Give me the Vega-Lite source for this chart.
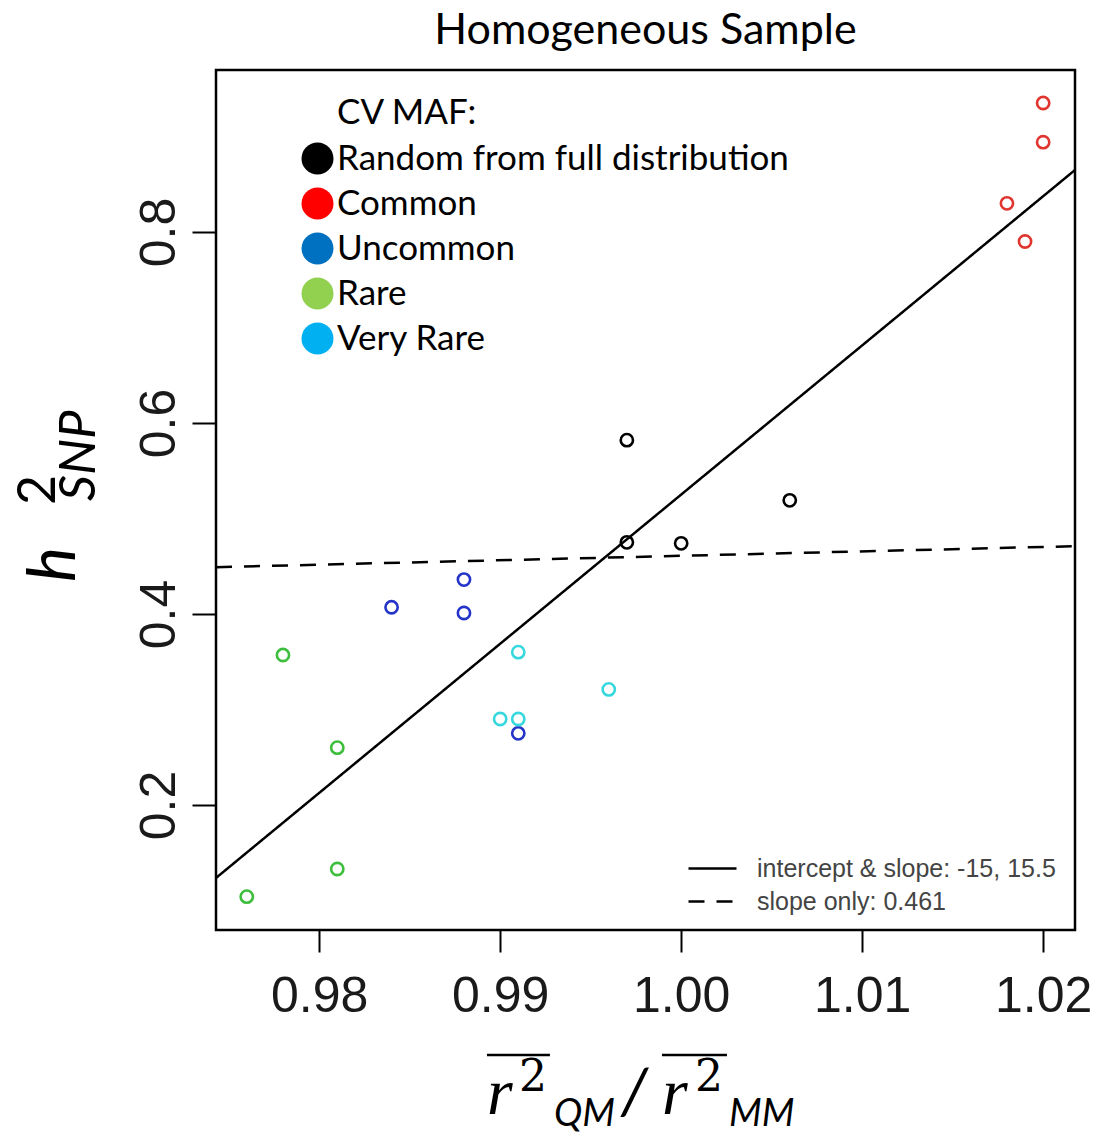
{
  "$schema": "https://vega.github.io/schema/vega-lite/v6.json",
  "width": 859,
  "height": 860,
  "autosize": "none",
  "padding": {"left": 216, "top": 70, "right": 21, "bottom": 204},
  "background": "white",
  "config": {
    "view": {"stroke": "black", "strokeWidth": 2.5},
    "axis": {"domain": false, "grid": false}
  },
  "title": {"text": "Homogeneous Sample", "font": "Lato", "fontSize": 43, "fontWeight": "normal", "color": "black", "anchor": "middle", "frame": "group", "baseline": "bottom", "offset": -26},
  "datasets": {
    "points": [
      {"group": "Common", "x": 1.020, "y": 0.935},
      {"group": "Common", "x": 1.020, "y": 0.894},
      {"group": "Common", "x": 1.018, "y": 0.830},
      {"group": "Common", "x": 1.019, "y": 0.790},
      {"group": "Random from full distribution", "x": 0.997, "y": 0.582},
      {"group": "Random from full distribution", "x": 0.997, "y": 0.475},
      {"group": "Random from full distribution", "x": 1.000, "y": 0.474},
      {"group": "Random from full distribution", "x": 1.006, "y": 0.519},
      {"group": "Uncommon", "x": 0.984, "y": 0.407},
      {"group": "Uncommon", "x": 0.988, "y": 0.436},
      {"group": "Uncommon", "x": 0.988, "y": 0.401},
      {"group": "Uncommon", "x": 0.991, "y": 0.275},
      {"group": "Very Rare", "x": 0.991, "y": 0.360},
      {"group": "Very Rare", "x": 0.996, "y": 0.321},
      {"group": "Very Rare", "x": 0.990, "y": 0.290},
      {"group": "Very Rare", "x": 0.991, "y": 0.290},
      {"group": "Rare", "x": 0.978, "y": 0.357},
      {"group": "Rare", "x": 0.981, "y": 0.260},
      {"group": "Rare", "x": 0.981, "y": 0.133},
      {"group": "Rare", "x": 0.976, "y": 0.104}
    ],
    "fits": [
      {"model": "intercept & slope: -15, 15.5", "x": 0.9743, "y": 0.1236},
      {"model": "intercept & slope: -15, 15.5", "x": 1.02176, "y": 0.8649},
      {"model": "slope only: 0.461", "x": 0.9743, "y": 0.449},
      {"model": "slope only: 0.461", "x": 1.02176, "y": 0.471}
    ]
  },
  "layer": [
    {
      "data": {"name": "fits"},
      "mark": {"type": "line", "color": "black", "strokeWidth": 2.5, "clip": true},
      "encoding": {
        "x": {"field": "x", "type": "quantitative", "scale": {"domain": [0.9743, 1.02176], "nice": false, "zero": false},
              "axis": {"title": null, "values": [0.98, 0.99, 1.0, 1.01, 1.02], "format": ".2f", "labelFont": "Liberation Sans", "labelFontSize": 50, "labelColor": "#1a1a1a", "labelBaseline": "alphabetic", "labelPadding": 59, "tickSize": 22, "tickWidth": 2, "tickColor": "black", "labelFlush": false, "labelOverlap": false}},
        "y": {"field": "y", "type": "quantitative", "scale": {"domain": [0.0691, 0.9696], "nice": false, "zero": false},
              "axis": {"title": null, "values": [0.2, 0.4, 0.6, 0.8], "format": ".1f", "labelFont": "Liberation Sans", "labelFontSize": 50, "labelColor": "#1a1a1a", "labelAngle": 270, "labelAlign": "center", "labelBaseline": "alphabetic", "labelPadding": 18, "tickSize": 24, "tickWidth": 2, "tickColor": "black", "labelFlush": false, "labelOverlap": false}},
        "strokeDash": {"field": "model", "type": "nominal",
          "scale": {"domain": ["intercept & slope: -15, 15.5", "slope only: 0.461"], "range": [[1, 0], [16, 12]]},
          "legend": {"orient": "none", "legendX": 483, "legendY": 785, "title": null, "symbolType": "M-2,0H2", "symbolSize": 576, "symbolStrokeWidth": 2.5, "symbolStrokeColor": "black", "symbolFillColor": "transparent", "labelFont": "Liberation Sans", "labelFontSize": 25, "labelColor": "#444444", "labelOffset": 31, "rowPadding": 6, "padding": 0, "labelLimit": 0}}
      }
    },
    {
      "data": {"name": "points"},
      "mark": {"type": "point", "shape": "circle", "filled": true, "fillOpacity": 0, "size": 150, "strokeWidth": 2.6, "strokeOpacity": 1},
      "encoding": {
        "x": {"field": "x", "type": "quantitative"},
        "y": {"field": "y", "type": "quantitative"},
        "stroke": {"field": "group", "type": "nominal",
          "scale": {"domain": ["Random from full distribution", "Common", "Uncommon", "Rare", "Very Rare"], "range": ["#000000", "#E0362F", "#2433C8", "#3DBE3D", "#36D8DE"]},
          "legend": null},
        "fill": {"field": "group", "type": "nominal",
          "scale": {"domain": ["Random from full distribution", "Common", "Uncommon", "Rare", "Very Rare"], "range": ["#000000", "#FF0000", "#0070C0", "#92D050", "#00B0F0"]},
          "legend": {"orient": "none", "legendX": 84, "legendY": 71, "title": null, "labelFont": "Lato", "labelFontSize": 35, "labelColor": "black", "labelOffset": 2, "symbolType": "circle", "symbolSize": 1024, "rowPadding": 9, "padding": 0, "labelLimit": 0,
            "encode": {"symbols": {"update": {"fillOpacity": {"value": 1}, "strokeWidth": {"value": 0}, "opacity": {"value": 1}}}}}}
      }
    },
    {
      "data": {"values": [{}]},
      "mark": {"type": "text", "text": "CV MAF:", "font": "Lato", "fontSize": 35, "align": "left", "baseline": "alphabetic", "color": "black"},
      "encoding": {"x": {"datum": 0.98099, "type": "quantitative"}, "y": {"datum": 0.91306, "type": "quantitative"}}
    },
    {
      "data": {"values": [{}]},
      "mark": {"type": "text", "text": "h", "font": "Lato", "fontStyle": "italic", "fontSize": 66, "angle": 270, "align": "left", "baseline": "alphabetic", "color": "black"},
      "encoding": {"x": {"datum": 0.96651, "type": "quantitative"}, "y": {"datum": 0.43347, "type": "quantitative"}}
    },
    {
      "data": {"values": [{}]},
      "mark": {"type": "text", "text": "2", "font": "Lato", "fontSize": 52, "angle": 270, "align": "left", "baseline": "alphabetic", "color": "black"},
      "encoding": {"x": {"datum": 0.96540, "type": "quantitative"}, "y": {"datum": 0.51410, "type": "quantitative"}}
    },
    {
      "data": {"values": [{}]},
      "mark": {"type": "text", "text": "SNP", "font": "Lato", "fontStyle": "italic", "fontSize": 51, "angle": 270, "align": "left", "baseline": "alphabetic", "color": "black"},
      "encoding": {"x": {"datum": 0.96762, "type": "quantitative"}, "y": {"datum": 0.51829, "type": "quantitative"}}
    },
    {
      "data": {"values": [{}]},
      "mark": {"type": "text", "text": "r", "font": "Liberation Serif", "fontStyle": "italic", "fontSize": 66, "align": "left", "baseline": "alphabetic", "color": "black"},
      "encoding": {"x": {"datum": 0.98927, "type": "quantitative"}, "y": {"datum": -0.12359, "type": "quantitative"}}
    },
    {
      "data": {"values": [{}]},
      "mark": {"type": "text", "text": "2", "font": "DejaVu Serif", "fontSize": 44, "align": "left", "baseline": "alphabetic", "color": "black"},
      "encoding": {"x": {"datum": 0.99104, "type": "quantitative"}, "y": {"datum": -0.09951, "type": "quantitative"}}
    },
    {
      "data": {"values": [{}]},
      "mark": {"type": "text", "text": "QM", "font": "Lato", "fontStyle": "italic", "fontSize": 38, "align": "left", "baseline": "alphabetic", "color": "black"},
      "encoding": {"x": {"datum": 0.99297, "type": "quantitative"}, "y": {"datum": -0.13616, "type": "quantitative"}}
    },
    {
      "data": {"values": [{}]},
      "mark": {"type": "text", "text": "/", "font": "Lato", "fontStyle": "italic", "fontSize": 64, "align": "left", "baseline": "alphabetic", "color": "black"},
      "encoding": {"x": {"datum": 0.99668, "type": "quantitative"}, "y": {"datum": -0.12359, "type": "quantitative"}}
    },
    {
      "data": {"values": [{}]},
      "mark": {"type": "text", "text": "r", "font": "Liberation Serif", "fontStyle": "italic", "fontSize": 66, "align": "left", "baseline": "alphabetic", "color": "black"},
      "encoding": {"x": {"datum": 0.99894, "type": "quantitative"}, "y": {"datum": -0.12359, "type": "quantitative"}}
    },
    {
      "data": {"values": [{}]},
      "mark": {"type": "text", "text": "2", "font": "DejaVu Serif", "fontSize": 44, "align": "left", "baseline": "alphabetic", "color": "black"},
      "encoding": {"x": {"datum": 1.00077, "type": "quantitative"}, "y": {"datum": -0.09951, "type": "quantitative"}}
    },
    {
      "data": {"values": [{}]},
      "mark": {"type": "text", "text": "MM", "font": "Lato", "fontStyle": "italic", "fontSize": 38, "align": "left", "baseline": "alphabetic", "color": "black"},
      "encoding": {"x": {"datum": 1.00264, "type": "quantitative"}, "y": {"datum": -0.13616, "type": "quantitative"}}
    },
    {
      "data": {"values": [{}]},
      "mark": {"type": "rule", "strokeWidth": 2.5, "color": "black"},
      "encoding": {"x": {"datum": 0.98927, "type": "quantitative"}, "x2": {"datum": 0.99275}, "y": {"datum": -0.06181, "type": "quantitative"}}
    },
    {
      "data": {"values": [{}]},
      "mark": {"type": "rule", "strokeWidth": 2.5, "color": "black"},
      "encoding": {"x": {"datum": 0.99894, "type": "quantitative"}, "x2": {"datum": 1.00253}, "y": {"datum": -0.06181, "type": "quantitative"}}
    }
  ]
}
